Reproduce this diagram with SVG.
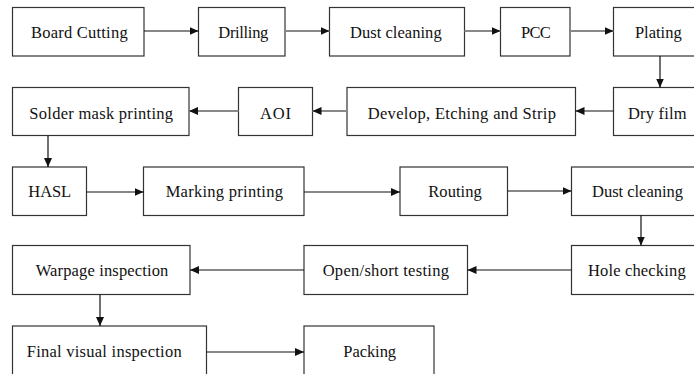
<svg xmlns="http://www.w3.org/2000/svg" width="694" height="374" viewBox="0 0 694 374">
<style>
.box{fill:#fff;stroke:#333;stroke-width:1.2}
.t{font-family:"Liberation Serif","Times New Roman",serif;font-size:16.5px;fill:#111;text-anchor:middle}
.k{stroke:#111;stroke-width:1.2;fill:none}
.g{stroke:#888;stroke-width:1.8;fill:none}
</style>
<defs>
<marker id="ah" markerUnits="userSpaceOnUse" markerWidth="10" markerHeight="8" refX="9" refY="4" orient="auto">
<path d="M0,0 L9,4 L0,8 Z" fill="#111"/>
</marker>
</defs>
<rect width="694" height="374" fill="#fff"/>
<g id="n1"><rect class="box" x="12.5" y="7.5" width="131.5" height="48.5"/><text class="t" x="79.3" y="37.5" textLength="96.7">Board Cutting</text></g>
<g id="n2"><rect class="box" x="198.5" y="7.5" width="86.5" height="48.5"/><text class="t" x="243.3" y="37.5" textLength="50">Drilling</text></g>
<g id="n3"><rect class="box" x="329.5" y="7.5" width="135" height="48.5"/><text class="t" x="395.8" y="37.5" textLength="91.7">Dust cleaning</text></g>
<g id="n4"><rect class="box" x="500.5" y="7.5" width="69.5" height="48.5"/><text class="t" x="535.8" y="37.5" textLength="29.7">PCC</text></g>
<g id="n5"><rect class="box" x="613.5" y="7.5" width="90" height="48.5"/><text class="t" x="658.3" y="37.5" textLength="46.7">Plating</text></g>
<g id="n6"><rect class="box" x="613.5" y="87.5" width="90" height="48"/><text class="t" x="657.3" y="119" textLength="58.7">Dry film</text></g>
<g id="n7"><rect class="box" x="347" y="87.5" width="228.5" height="48"/><text class="t" x="461.8" y="119" textLength="188.3">Develop,  Etching and Strip</text></g>
<g id="n8"><rect class="box" x="238.5" y="87.5" width="74" height="48"/><text class="t" x="275.5" y="119" textLength="31">AOI</text></g>
<g id="n9"><rect class="box" x="12.5" y="87.5" width="176.5" height="48"/><text class="t" x="101.2" y="119" textLength="143.7">Solder mask printing</text></g>
<g id="n10"><rect class="box" x="12.5" y="167" width="74" height="48.5"/><text class="t" x="49.7" y="197" textLength="42.7">HASL</text></g>
<g id="n11"><rect class="box" x="143.5" y="167" width="160.5" height="48.5"/><text class="t" x="224.3" y="197" textLength="117.3">Marking printing</text></g>
<g id="n12"><rect class="box" x="400" y="167" width="107.5" height="48.5"/><text class="t" x="455" y="197" textLength="53.4">Routing</text></g>
<g id="n13"><rect class="box" x="571.5" y="167" width="130" height="48.5"/><text class="t" x="637.5" y="197" textLength="91">Dust cleaning</text></g>
<g id="n14"><rect class="box" x="571.5" y="245.5" width="130" height="49"/><text class="t" x="636.8" y="275.5" textLength="97.7">Hole  checking</text></g>
<g id="n15"><rect class="box" x="304" y="245.5" width="163.5" height="49"/><text class="t" x="385.8" y="275.5" textLength="126.3">Open/short testing</text></g>
<g id="n16"><rect class="box" x="12.5" y="245.5" width="177.5" height="49"/><text class="t" x="102" y="275.5" textLength="132.7">Warpage inspection</text></g>
<g id="n17"><rect class="box" x="12.5" y="326" width="194" height="60"/><text class="t" x="104.2" y="357" textLength="155">Final visual  inspection</text></g>
<g id="n18"><rect class="box" x="304" y="326" width="130" height="60"/><text class="t" x="369.7" y="357" textLength="52.7">Packing</text></g>
<g id="connectors">
<line class="k" x1="144" y1="31" x2="198.5" y2="31" marker-end="url(#ah)"/>
<line class="g" x1="285" y1="31" x2="329.5" y2="31" marker-end="url(#ah)"/>
<line class="g" x1="464.5" y1="31" x2="500.5" y2="31" marker-end="url(#ah)"/>
<line class="g" x1="570" y1="31" x2="613.5" y2="31" marker-end="url(#ah)"/>
<line class="k" x1="660" y1="56" x2="660" y2="87.5" marker-end="url(#ah)"/>
<line class="k" x1="613.5" y1="111" x2="575.5" y2="111" marker-end="url(#ah)"/>
<line class="g" x1="347" y1="111" x2="312.5" y2="111" marker-end="url(#ah)"/>
<line class="g" x1="238.5" y1="111" x2="189" y2="111" marker-end="url(#ah)"/>
<line class="k" x1="48" y1="135.5" x2="48" y2="167" marker-end="url(#ah)"/>
<line class="k" x1="86.5" y1="192" x2="143.5" y2="192" marker-end="url(#ah)"/>
<line class="k" x1="304" y1="192" x2="400" y2="192" marker-end="url(#ah)"/>
<line class="k" x1="507.5" y1="191" x2="571.5" y2="191" marker-end="url(#ah)"/>
<line class="k" x1="641" y1="215.5" x2="641" y2="245.5" marker-end="url(#ah)"/>
<line class="k" x1="571.5" y1="270" x2="467.5" y2="270" marker-end="url(#ah)"/>
<line class="k" x1="304" y1="270" x2="190" y2="270" marker-end="url(#ah)"/>
<line class="k" x1="100" y1="294.5" x2="100" y2="326" marker-end="url(#ah)"/>
<line class="k" x1="206.5" y1="352" x2="304" y2="352" marker-end="url(#ah)"/>
</g>
</svg>
